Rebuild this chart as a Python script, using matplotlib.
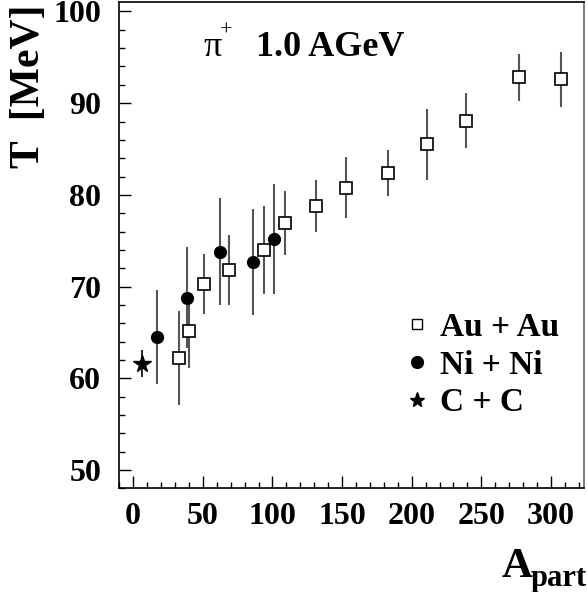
import matplotlib
matplotlib.use("Agg")
import matplotlib.pyplot as plt
from matplotlib.ticker import MultipleLocator
from matplotlib.lines import Line2D

plt.rcParams['font.family'] = ['Liberation Serif', 'DejaVu Serif']
plt.rcParams['font.weight'] = 'bold'

# Au + Au
au_a = [33.2, 40.2, 51.2, 69.1, 93.9, 108.8, 131.1, 153.2, 183.2, 211.1, 239.1, 277.3, 307.3]
au_t = [62.2, 65.1, 70.3, 71.8, 74.0, 76.9, 78.8, 80.8, 82.4, 85.5, 88.1, 92.8, 92.6]
au_err = [5.1, 4.0, 3.3, 3.8, 4.8, 3.5, 2.8, 3.35, 2.5, 3.9, 3.0, 2.6, 3.0]
# Ni + Ni
ni_a = [17.4, 38.8, 62.4, 86.3, 100.9]
ni_t = [64.5, 68.8, 73.8, 72.7, 75.2]
ni_err = [5.15, 5.5, 5.85, 5.75, 6.0]
# C + C
cc_a = [6.2]
cc_t = [61.6]
cc_err = [1.45]

fig = plt.figure(figsize=(5.87, 5.92), dpi=100)
ax = fig.add_axes([0.2032, 0.1752, 0.7922, 0.8209])

ecol = '#555555'
ax.errorbar(au_a, au_t, yerr=au_err, fmt='none', ecolor=ecol, elinewidth=1.5, zorder=2)
ax.errorbar(ni_a, ni_t, yerr=ni_err, fmt='none', ecolor=ecol, elinewidth=1.5, zorder=2)
ax.errorbar(cc_a, cc_t, yerr=cc_err, fmt='none', ecolor='black', elinewidth=1.2, zorder=2)
ax.plot(au_a, au_t, 's', ms=8.3, mfc='white', mec='black', mew=1.2, ls='none', zorder=3)
ax.plot(ni_a, ni_t, 'o', ms=8.5, mfc='black', mec='black', ls='none', zorder=3)
ax.plot(cc_a, cc_t, '*', ms=13, mfc='black', mec='black', ls='none', zorder=3)

ax.set_xlim(-10, 324)
ax.set_ylim(48, 101)
ax.xaxis.set_major_locator(MultipleLocator(50))
ax.xaxis.set_minor_locator(MultipleLocator(10))
ax.yaxis.set_major_locator(MultipleLocator(10))
ax.yaxis.set_minor_locator(MultipleLocator(2))
ax.tick_params(which='both', direction='in', top=False, right=False)
ax.tick_params(which='major', length=8.6, width=1.0)
ax.tick_params(which='minor', length=4.3, width=1.0)
ax.tick_params(axis='x', labelsize=23, pad=10)
ax.tick_params(axis='y', labelsize=23, pad=13)
for lab in ax.get_xticklabels() + ax.get_yticklabels():
    lab.set_fontweight('bold')
for s in ax.spines.values():
    s.set_linewidth(1.2)
ax.spines['right'].set_color('#666666')

# title
fig.text(203 / 587, 1 - 56 / 592, 'π', fontsize=26, fontweight='normal', va='baseline', ha='left')
fig.text(220 / 587, 1 - 36 / 592, '+', fontsize=16, fontweight='normal', va='baseline', ha='left')
fig.text(256 / 587, 1 - 56 / 592, '1.0 AGeV', fontsize=26, fontweight='bold', va='baseline', ha='left')

# axis labels
fig.text(29 / 587, 1 - 4 / 592, 'T  [MeV]', fontsize=30, fontweight='bold', rotation=90,
         ha='center', va='top')
fig.text(502 / 587, 1 - 577 / 592, 'A', fontsize=31, fontweight='bold', va='baseline', ha='left')
fig.text(531 / 587, 1 - 586 / 592, 'part', fontsize=22, fontweight='bold', va='baseline', ha='left')

handles = [
    Line2D([], [], marker='s', ms=6.5, mfc='white', mec='black', mew=1.0, ls='none'),
    Line2D([], [], marker='o', ms=8.5, mfc='black', mec='black', ls='none'),
    Line2D([], [], marker='*', ms=11, mfc='black', mec='black', ls='none'),
]
ax.legend(handles, ['Au + Au', 'Ni + Ni', 'C + C'], loc='upper left',
          bbox_to_anchor=(0.583, 0.39), frameon=False, handlelength=0.8,
          handletextpad=0.3, labelspacing=0.2, borderaxespad=0,
          prop={'family': 'Liberation Serif', 'weight': 'bold', 'size': 24})

fig.savefig('out.png', dpi=100)
